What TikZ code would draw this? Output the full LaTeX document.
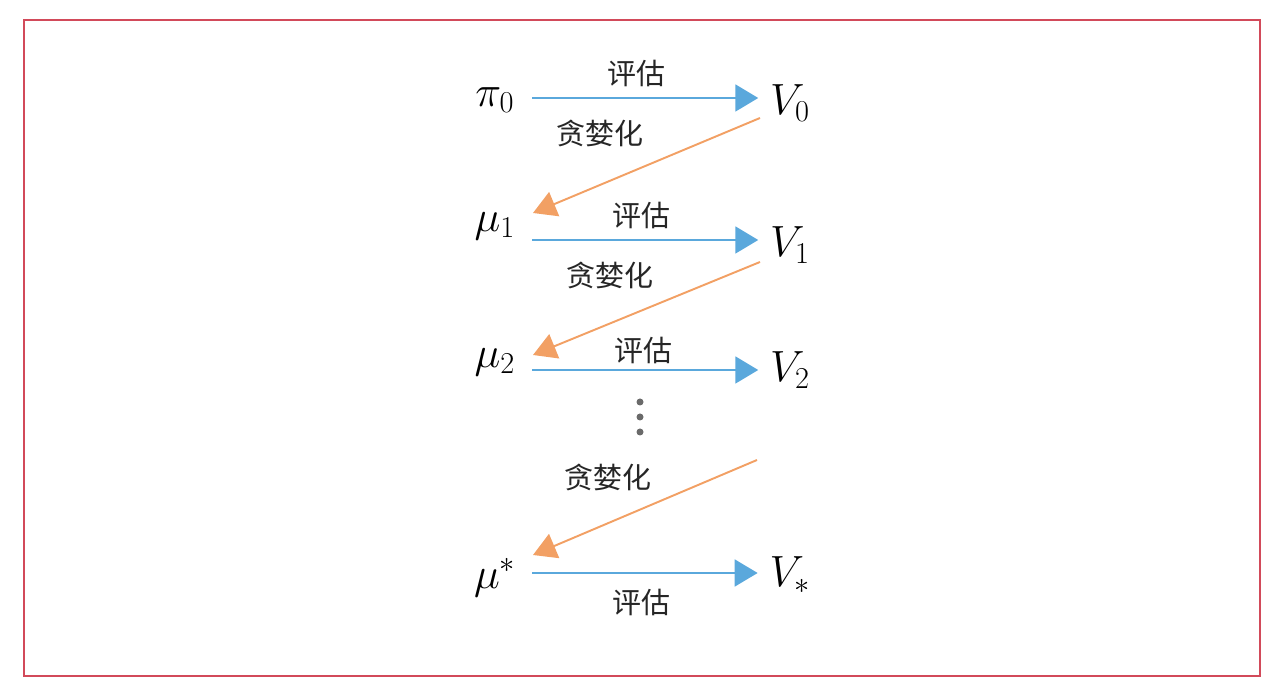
\documentclass[tikz,border=0pt]{standalone}
\usepackage{fontspec}
\newfontfamily\cjk{Noto Sans CJK SC}
\usepackage{xcolor}
\definecolor{cEval}{HTML}{5AA8DC}
\definecolor{cGreedy}{HTML}{F2A064}
\definecolor{cFrame}{HTML}{D24A5A}
\definecolor{cDot}{HTML}{6A6A6A}
\usetikzlibrary{arrows.meta,calc}
\tikzset{
  node-math/.style={inner sep=2pt,font=\fontsize{23}{26}\selectfont},
  node-label/.style={inner sep=0pt,font=\cjk\fontsize{16.5}{18}\selectfont,text=black!85},
  arrow-eval/.style={-{Triangle[length=4.6mm,width=5.4mm]},line width=1.1pt,draw=cEval,fill=cEval,shorten >=0.16cm},
  arrow-greedy/.style={-{Triangle[length=4.6mm,width=5.2mm]},line width=1.1pt,draw=cGreedy,fill=cGreedy},
}
\begin{document}
\begin{tikzpicture}[x=0.02cm,y=-0.02cm]
  \useasboundingbox (0,0) rectangle (1272,688);
  \draw[cFrame,line width=0.9pt] (24,20) rectangle (1260,676);
  % left column: policies
  \node[node-math] (pi0)    at (495,100) {$\pi_0$};
  \node[node-math] (mu1)    at (495,226) {$\mu_1$};
  \node[node-math] (mu2)    at (495,362) {$\mu_2$};
  \node[node-math] (mustar) at (495,578) {$\mu^{*}$};
  % right column: values
  \node[node-math] (v0)    at (790,103) {$V_0$};
  \node[node-math] (v1)    at (790,245) {$V_1$};
  \node[node-math] (v2)    at (790,370) {$V_2$};
  \node[node-math] (vstar) at (790,575) {$V_{*}$};
  \coordinate (vdots) at (757,460);
  % evaluation
  \draw[arrow-eval] (532,98)  coordinate (e0) -- (e0 -| v0.west);
  \draw[arrow-eval] (532,240) coordinate (e1) -- (e1 -| v1.west);
  \draw[arrow-eval] (532,370) coordinate (e2) -- (e2 -| v2.west);
  \draw[arrow-eval] (532,573) coordinate (e3) -- (e3 -| vstar.west);
  \node[node-label] (l0) at (636,73)  {评估};
  \node[node-label] (l1) at (641,215) {评估};
  \node[node-label] (l2) at (643,350) {评估};
  \node[node-label] (l3) at (641,602) {评估};
  % greedification
  \draw[arrow-greedy] ($(v0)+(-30,15)$) -- ($(mu1)+(38,-13)$);
  \draw[arrow-greedy] ($(v1)+(-30,17)$) -- ($(mu2)+(38,-7)$);
  \draw[arrow-greedy] (vdots)           -- ($(mustar)+(38,-23)$);
  \node[node-label] (g0) at (600,133) {贪婪化};
  \node[node-label] (g1) at (610,275) {贪婪化};
  \node[node-label] (g2) at (608,477) {贪婪化};
  % dots
  \foreach \y in {402,417,432}
    \fill[cDot] (640,\y) circle (3.5);
\end{tikzpicture}
\end{document}
